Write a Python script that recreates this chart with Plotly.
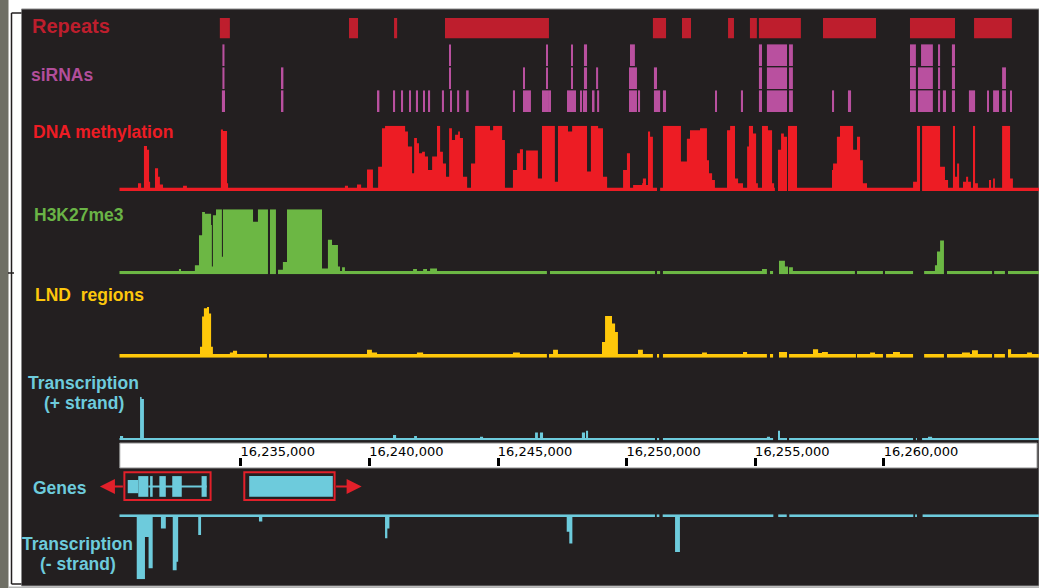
import plotly.graph_objects as go

W, H = 1039, 588

# ---------------- data (positions in kb from ORIGIN) ----------------
ORIGIN = 16230000
VIEW_START = 16229144
VIEW_END = 16266024
TRACK_END = 36.02
RULER_START = 0.30
RULER_END = 35.95

TICK_VALUES = [16235000, 16240000, 16245000, 16250000, 16255000, 16260000]
TICK_LABELS = [f"{v:,}" for v in TICK_VALUES]

REPEAT_START = [4.19, 9.21, 10.96, 12.94, 21.02, 22.15, 23.94, 24.79, 25.14, 27.63, 31.01, 33.50]
REPEAT_END = [4.58, 9.56, 11.08, 16.98, 21.53, 22.50, 24.17, 25.06, 26.77, 29.69, 32.76, 34.97]

SIRNA_TOP_START = [4.29, 13.10, 16.87, 17.84, 18.34, 20.13, 25.14, 25.45, 26.31, 31.01, 31.44, 32.12, 32.64]
SIRNA_TOP_END = [4.37, 13.17, 16.94, 17.91, 18.46, 20.32, 25.26, 26.23, 26.46, 31.24, 31.90, 32.18, 32.76]
SIRNA_MID_START = [4.29, 6.59, 13.10, 15.97, 16.87, 17.84, 18.34, 18.81, 20.09, 21.06, 25.14, 25.45,
                   26.31, 31.01, 31.32, 32.12, 32.64, 34.59]
SIRNA_MID_END = [4.37, 6.66, 13.17, 16.05, 16.94, 17.91, 18.46, 18.89, 20.40, 21.18, 25.26, 26.23,
                 26.46, 31.24, 31.90, 32.18, 32.76, 34.74]
SIRNA_LOW_START = [4.27, 6.59, 10.32, 10.92, 11.23, 11.54, 11.81, 12.09, 12.28, 12.82,
                   13.14, 13.41, 13.76, 15.58, 15.97, 16.71, 17.00, 17.68, 18.19, 18.30,
                   18.69, 18.85, 20.09, 20.44, 21.06, 21.41, 23.45, 24.44, 25.14, 25.45,
                   26.31, 28.00, 28.60, 31.01, 31.32, 32.12, 32.29, 32.64, 33.30, 34.02,
                   34.24, 34.59, 34.90]
SIRNA_LOW_END = [4.39, 6.66, 10.39, 11.00, 11.31, 11.62, 11.89, 12.16, 12.36, 12.90,
                 13.21, 13.49, 13.86, 15.66, 16.28, 16.98, 17.06, 18.03, 18.26, 18.46,
                 18.75, 18.93, 20.40, 20.52, 21.30, 21.53, 23.51, 24.52, 25.26, 26.23,
                 26.46, 28.06, 28.72, 31.24, 31.90, 32.18, 32.41, 32.76, 33.54, 34.08,
                 34.47, 34.74, 34.97]

# DNA methylation: value holds from each start to the next start
DNA_START = [0.29, 1.01, 1.13, 1.24, 1.36, 1.44, 1.48, 1.67, 1.79, 1.86,
             1.98, 2.76, 2.91, 4.23, 4.31, 4.47, 4.51, 9.05, 9.17, 9.52,
             9.68, 9.91, 10.14, 10.34, 10.49, 10.61, 11.39, 11.50, 11.66, 11.74,
             11.85, 11.93, 12.05, 12.16, 12.28, 12.44, 12.63, 12.75, 12.86, 12.98,
             13.10, 13.21, 13.33, 13.45, 13.52, 13.64, 13.80, 13.95, 14.11, 14.69,
             14.81, 15.16, 15.27, 15.58, 15.74, 15.85, 15.97, 16.09, 16.55, 16.71,
             17.21, 17.33, 17.72, 17.88, 18.46, 18.61, 18.89, 19.08, 19.24, 19.86,
             20.01, 20.13, 20.25, 20.60, 20.63, 20.75, 20.83, 20.91, 21.02, 21.18,
             21.30, 21.41, 22.11, 22.34, 22.46, 22.85, 23.12, 23.20, 23.32, 23.43,
             23.90, 24.02, 24.21, 24.33, 24.52, 24.68, 24.75, 24.91, 25.03, 25.10,
             25.26, 25.49, 25.65, 25.73, 25.76, 25.88, 26.00, 26.11, 26.23, 26.27,
             26.62, 27.98, 28.02, 28.17, 28.29, 28.80, 28.95, 29.07, 29.18, 29.34,
             31.13, 31.28, 31.40, 31.48, 32.18, 32.37, 32.49, 32.68, 32.76, 32.84,
             32.92, 33.07, 33.19, 33.27, 33.38, 33.46, 33.54, 33.65, 34.08, 34.16,
             34.24, 34.31, 34.59, 34.90, 35.01]
DNA_VALUE = [0.05, 0.12, 0.05, 0.69, 0.63, 0.14, 0.05, 0.35, 0.22, 0.10,
             0.05, 0.08, 0.05, 0.94, 0.92, 0.12, 0.05, 0.08, 0.05, 0.10,
             0.05, 0.33, 0.05, 0.37, 0.96, 1.00, 0.91, 0.68, 0.27, 0.81,
             0.73, 0.58, 0.60, 0.53, 0.32, 0.53, 1.00, 0.60, 0.42, 0.22,
             0.96, 0.78, 0.86, 0.91, 0.81, 0.22, 0.05, 0.42, 1.00, 0.93,
             1.00, 0.78, 0.05, 0.32, 0.58, 0.64, 0.32, 0.62, 0.19, 1.00,
             0.14, 1.00, 0.91, 1.00, 0.30, 1.00, 0.96, 0.22, 0.05, 0.32,
             0.58, 0.05, 0.09, 0.12, 0.19, 0.09, 0.91, 0.83, 0.05, 0.00,
             0.05, 1.00, 0.45, 0.80, 0.93, 0.96, 0.47, 0.27, 0.17, 0.05,
             0.93, 1.00, 0.19, 0.12, 0.05, 0.68, 1.00, 0.88, 0.12, 0.05,
             1.00, 0.93, 0.12, 0.05, 0.00, 0.63, 0.88, 0.83, 0.00, 1.00,
             0.05, 0.32, 0.42, 0.83, 1.00, 0.63, 0.83, 0.47, 0.12, 0.05,
             0.14, 1.00, 0.00, 1.00, 0.37, 0.17, 0.05, 1.00, 0.22, 0.42,
             0.05, 0.14, 0.22, 0.14, 0.05, 1.00, 0.12, 0.05, 0.17, 0.05,
             0.19, 0.05, 1.00, 0.19, 0.05]

H3K27_START = [0.29, 2.60, 2.68, 3.22, 3.38, 3.50, 3.61, 3.85, 3.88, 3.92,
               4.04, 4.27, 4.31, 5.48, 5.67, 6.06, 6.14, 6.37, 6.45, 6.64,
               6.80, 8.16, 8.39, 8.55, 8.78, 8.86, 8.94, 9.05, 11.70, 11.85,
               12.09, 12.24, 12.36, 12.63, 16.90, 17.02, 21.10, 21.18, 21.30, 21.41,
               25.26, 25.45, 25.57, 25.69, 25.92, 26.15, 26.27, 26.31, 26.46, 28.87,
               28.95, 29.96, 30.04, 31.13, 31.56, 31.98, 32.06, 32.18, 32.33, 32.45,
               34.20, 34.28, 34.70, 34.82]
H3K27_VALUE = [0.05, 0.08, 0.05, 0.14, 0.60, 0.96, 0.93, 0.76, 0.12, 0.91,
               1.00, 0.27, 1.00, 0.81, 1.00, 0.00, 1.00, 0.00, 0.07, 0.19,
               1.00, 0.09, 0.53, 0.45, 0.12, 0.05, 0.11, 0.05, 0.08, 0.05,
               0.08, 0.05, 0.09, 0.05, 0.00, 0.05, 0.00, 0.05, 0.00, 0.05,
               0.08, 0.00, 0.05, 0.00, 0.21, 0.12, 0.00, 0.11, 0.05, 0.00,
               0.05, 0.00, 0.05, 0.00, 0.05, 0.14, 0.35, 0.52, 0.00, 0.05,
               0.00, 0.05, 0.00, 0.05]

LND_START = [0.29, 3.42, 3.50, 3.57, 3.69, 3.77, 3.85, 3.92, 4.58, 4.70,
             4.86, 6.02, 6.10, 9.91, 10.10, 10.30, 11.85, 12.09, 15.58, 15.85,
             16.90, 16.98, 17.14, 17.33, 19.04, 19.16, 19.43, 19.55, 19.66, 20.44,
             20.63, 21.02, 21.18, 21.26, 21.41, 22.93, 23.12, 24.52, 24.68, 25.45,
             25.57, 25.69, 25.92, 26.23, 26.31, 27.24, 27.44, 27.59, 27.82, 28.91,
             28.95, 29.46, 29.65, 29.96, 30.08, 30.35, 30.62, 31.13, 31.56, 32.33,
             32.45, 33.03, 33.34, 33.42, 33.65, 34.20, 34.28, 34.70, 34.82, 34.94,
             35.56, 35.75]
LND_VALUE = [0.07, 0.21, 0.78, 0.94, 0.96, 0.84, 0.21, 0.07, 0.10, 0.13,
             0.07, 0.00, 0.07, 0.15, 0.10, 0.07, 0.10, 0.07, 0.10, 0.07,
             0.00, 0.07, 0.15, 0.07, 0.30, 0.79, 0.65, 0.49, 0.07, 0.15,
             0.07, 0.00, 0.07, 0.00, 0.07, 0.10, 0.07, 0.11, 0.07, 0.00,
             0.07, 0.00, 0.11, 0.00, 0.07, 0.16, 0.09, 0.11, 0.07, 0.00,
             0.07, 0.10, 0.07, 0.00, 0.07, 0.11, 0.07, 0.00, 0.07, 0.00,
             0.07, 0.10, 0.07, 0.14, 0.07, 0.00, 0.07, 0.00, 0.16, 0.07,
             0.10, 0.07]

PLUS_START = [0.29, 0.31, 0.43, 1.09, 1.15, 1.24, 10.92, 11.04, 11.74, 11.85,
              14.30, 14.42, 16.44, 16.55, 16.63, 16.75, 18.26, 18.38, 18.42, 18.50,
              21.10, 21.18, 21.26, 21.41, 25.45, 25.57, 25.69, 25.88, 25.96, 26.23,
              26.31, 31.13, 31.24, 31.28, 31.48, 31.71, 31.87]
PLUS_VALUE = [0.05, 0.10, 0.05, 1.00, 0.95, 0.05, 0.12, 0.05, 0.10, 0.05,
              0.08, 0.05, 0.18, 0.05, 0.18, 0.05, 0.18, 0.05, 0.22, 0.05,
              0.00, 0.05, 0.00, 0.05, 0.08, 0.05, 0.00, 0.22, 0.05, 0.00,
              0.05, 0.00, 0.05, 0.00, 0.05, 0.08, 0.05]

MINUS_START = [0.29, 0.96, 1.28, 1.42, 1.58, 1.90, 2.09, 2.36, 2.51, 2.57,
               3.35, 3.46, 5.71, 5.84, 10.61, 10.70, 10.78, 17.67, 17.77, 17.89,
               21.10, 21.17, 21.27, 21.40, 21.88, 22.07, 25.70, 25.89, 26.22, 26.32,
               31.14, 31.21, 31.28, 31.50]
MINUS_VALUE = [0.04, 1.00, 0.35, 0.83, 0.04, 0.22, 0.04, 0.86, 0.73, 0.04,
               0.32, 0.04, 0.11, 0.04, 0.37, 0.22, 0.04, 0.27, 0.45, 0.04,
               0.00, 0.04, 0.00, 0.04, 0.58, 0.04, 0.00, 0.04, 0.00, 0.04,
               0.00, 0.04, 0.00, 0.04]

GENE_EXON_START = [0.61, 1.02, 1.48, 1.84, 2.34, 3.48, 5.33]
GENE_EXON_END = [1.02, 1.41, 1.58, 2.09, 2.71, 3.68, 8.58]
GENE_EXON_KIND = ["utr", "cds", "cds", "cds", "cds", "cds", "cds"]
INTRON_START = [1.41]
INTRON_END = [3.68]
GENE_BOX_START = [0.48, 5.14]
GENE_BOX_END = [3.83, 8.65]
GENE_STRAND = ["-", "+"]
GENE_ARROW_TIP = [-0.47, 9.70]

# ---------------- styles ----------------
BG = "#231f20"
C_REPEAT = "#be1e2d"
C_SIRNA = "#b9509f"
C_DNA = "#ed1c24"
C_H3 = "#6cb744"
C_LND = "#ffc80a"
C_TX = "#6dcbdc"
C_BOX = "#e2202a"
LABEL_FONT = "Liberation Sans, Arial, sans-serif"


def bp(k):
    return ORIGIN + 1000.0 * k


def step_trace(starts, values, color, yaxis):
    xs = [bp(s) for s in starts] + [bp(TRACK_END)]
    ys = list(values) + [values[-1]]
    return go.Scatter(x=xs, y=ys, mode="lines", line=dict(width=0, shape="hv"),
                      fill="tozeroy", fillcolor=color, xaxis="x", yaxis=yaxis,
                      hoverinfo="skip")


def interval_bars(starts, ends, base, height, color, yaxis):
    pairs = list(zip(starts, ends))
    return go.Bar(x=[bp((s + e) / 2) for s, e in pairs],
                  width=[1000.0 * (e - s) for s, e in pairs],
                  y=[height] * len(pairs), base=base,
                  marker=dict(color=color, line=dict(width=0)),
                  xaxis="x", yaxis=yaxis, hoverinfo="skip")


fig = go.Figure()
fig.add_trace(interval_bars(REPEAT_START, REPEAT_END, 0, 1, C_REPEAT, "y"))
fig.add_trace(interval_bars(SIRNA_TOP_START, SIRNA_TOP_END, 2, 0.94, C_SIRNA, "y2"))
fig.add_trace(interval_bars(SIRNA_MID_START, SIRNA_MID_END, 1, 0.94, C_SIRNA, "y2"))
fig.add_trace(interval_bars(SIRNA_LOW_START, SIRNA_LOW_END, 0, 0.94, C_SIRNA, "y2"))
fig.add_trace(step_trace(DNA_START, DNA_VALUE, C_DNA, "y3"))
fig.add_trace(step_trace(H3K27_START, H3K27_VALUE, C_H3, "y4"))
fig.add_trace(step_trace(LND_START, LND_VALUE, C_LND, "y5"))
fig.add_trace(step_trace(PLUS_START, PLUS_VALUE, C_TX, "y6"))
fig.add_trace(step_trace(MINUS_START, MINUS_VALUE, C_TX, "y8"))

# genes
EXON_SPAN = {"utr": (0.26, 0.44), "cds": (0.14, 0.69)}
ex = list(zip(GENE_EXON_START, GENE_EXON_END, GENE_EXON_KIND))
fig.add_trace(go.Bar(x=[bp((s + e) / 2) for s, e, k in ex],
                     width=[1000.0 * (e - s) for s, e, k in ex],
                     base=[EXON_SPAN[k][0] for s, e, k in ex],
                     y=[EXON_SPAN[k][1] for s, e, k in ex],
                     marker=dict(color=C_TX, line=dict(width=0)),
                     xaxis="x", yaxis="y7", hoverinfo="skip"))
for s, e in zip(INTRON_START, INTRON_END):
    fig.add_trace(go.Scatter(x=[bp(s), bp(e)], y=[0.48, 0.48], mode="lines",
                             line=dict(color=C_TX, width=2), xaxis="x", yaxis="y7",
                             hoverinfo="skip"))


def track_axis(py_bottom, py_top, rng):
    return dict(domain=[1 - py_bottom / H, 1 - py_top / H], range=rng,
                visible=False, fixedrange=True, anchor="x")


shapes = [
    dict(type="rect", xref="paper", yref="paper", x0=0, x1=8.5 / W, y0=0, y1=1,
         fillcolor="#6f6f65", line=dict(width=0), layer="below"),
    dict(type="rect", xref="paper", yref="paper", x0=21.5 / W, x1=1, y0=1 - 586 / H, y1=1 - 9 / H,
         fillcolor=BG, line=dict(color="#8a8a8a", width=1), layer="below"),
    dict(type="rect", xref="paper", yref="paper", x0=8.5 / W, x1=1, y0=0, y1=1 - 586.5 / H,
         fillcolor="#b4b4b4", line=dict(width=0), layer="below"),
    dict(type="line", xref="paper", yref="paper", x0=11.5 / W, x1=11.5 / W, y0=1 - 584 / H, y1=1 - 13 / H,
         line=dict(color="#231f20", width=1.5)),
    dict(type="line", xref="paper", yref="paper", x0=11.5 / W, x1=21.5 / W, y0=1 - 13 / H, y1=1 - 13 / H,
         line=dict(color="#231f20", width=1.5)),
    dict(type="line", xref="paper", yref="paper", x0=11.5 / W, x1=21.5 / W, y0=1 - 584 / H, y1=1 - 584 / H,
         line=dict(color="#231f20", width=1.5)),
    dict(type="line", xref="paper", yref="paper", x0=8 / W, x1=14 / W, y0=1 - 273 / H, y1=1 - 273 / H,
         line=dict(color="#231f20", width=1.5)),
    # ruler box
    dict(type="rect", xref="x", yref="paper", x0=bp(RULER_START), x1=bp(RULER_END),
         y0=1 - 468 / H, y1=1 - 443 / H, fillcolor="white",
         line=dict(color="#8c8c8c", width=1), layer="below"),
]
for s, e in zip(GENE_BOX_START, GENE_BOX_END):
    shapes.append(dict(type="rect", xref="x", yref="y7", x0=bp(s), x1=bp(e), y0=0.03, y1=0.96,
                       line=dict(color=C_BOX, width=2), fillcolor="rgba(0,0,0,0)"))

annotations = []
for s, e, strand, tip in zip(GENE_BOX_START, GENE_BOX_END, GENE_STRAND, GENE_ARROW_TIP):
    tail = s if strand == "-" else e
    annotations.append(dict(x=bp(tip), y=0.48, xref="x", yref="y7",
                            ax=bp(tail), ay=0.48, axref="x", ayref="y7",
                            text="", showarrow=True, arrowhead=2, arrowsize=1.5,
                            arrowwidth=2, arrowcolor=C_BOX))


def label(text, px, py, color, size=17.5, anchor="left"):
    annotations.append(dict(text=f"<b>{text}</b>", x=px / W, y=1 - py / H, xref="paper", yref="paper",
                            xanchor=anchor, yanchor="middle", showarrow=False,
                            font=dict(family=LABEL_FONT, size=size, color=color)))


label("Repeats", 30, 26, C_REPEAT, size=20)
label("siRNAs", 28.5, 74.5, "#b24e9b")
label("DNA methylation", 30.5, 132, C_DNA)
label("H3K27me3", 31.5, 215.5, "#6ab446")
label("LND\u00a0 regions", 32.5, 295, "#fdc70c")
label("Transcription", 83, 383, C_TX, anchor="center")
label("(+ strand)", 83.5, 403, C_TX, anchor="center")
label("Genes", 30.5, 487.5, C_TX)
label("Transcription", 77.5, 543.5, C_TX, anchor="center")
label("(- strand)", 77.5, 564, C_TX, anchor="center")

fig.update_layout(
    width=W, height=H, margin=dict(l=0, r=0, t=0, b=0),
    paper_bgcolor="white", plot_bgcolor="rgba(0,0,0,0)",
    showlegend=False, barmode="overlay",
    xaxis=dict(domain=[90 / W, 1], range=[VIEW_START, VIEW_END], anchor="free",
               position=1 - 466 / H, side="top", ticks="outside", ticklen=8, tickwidth=3,
               tickcolor="black", tickmode="array", tickvals=TICK_VALUES, ticktext=TICK_LABELS,
               tickfont=dict(family="DejaVu Sans", size=13, color="black"),
               ticklabelshift=37, ticklabelstandoff=-3, showgrid=False, zeroline=False,
               showline=False, fixedrange=True),
    yaxis=track_axis(38.5, 18, [0, 1]),
    yaxis2=track_axis(112, 43, [0, 3]),
    yaxis3=track_axis(191, 125.7, [0, 1]),
    yaxis4=track_axis(274.3, 209.3, [0, 1]),
    yaxis5=track_axis(357.7, 305, [0, 1]),
    yaxis6=track_axis(440.3, 396.7, [0, 1]),
    yaxis7=track_axis(501, 471, [0, 1]),
    yaxis8=track_axis(579.3, 514.3, [1, 0]),
    shapes=shapes, annotations=annotations,
)

fig.write_html("out.html", config={"displayModeBar": False},
               post_script="document.body.style.margin='0';document.body.style.overflow='hidden';")
